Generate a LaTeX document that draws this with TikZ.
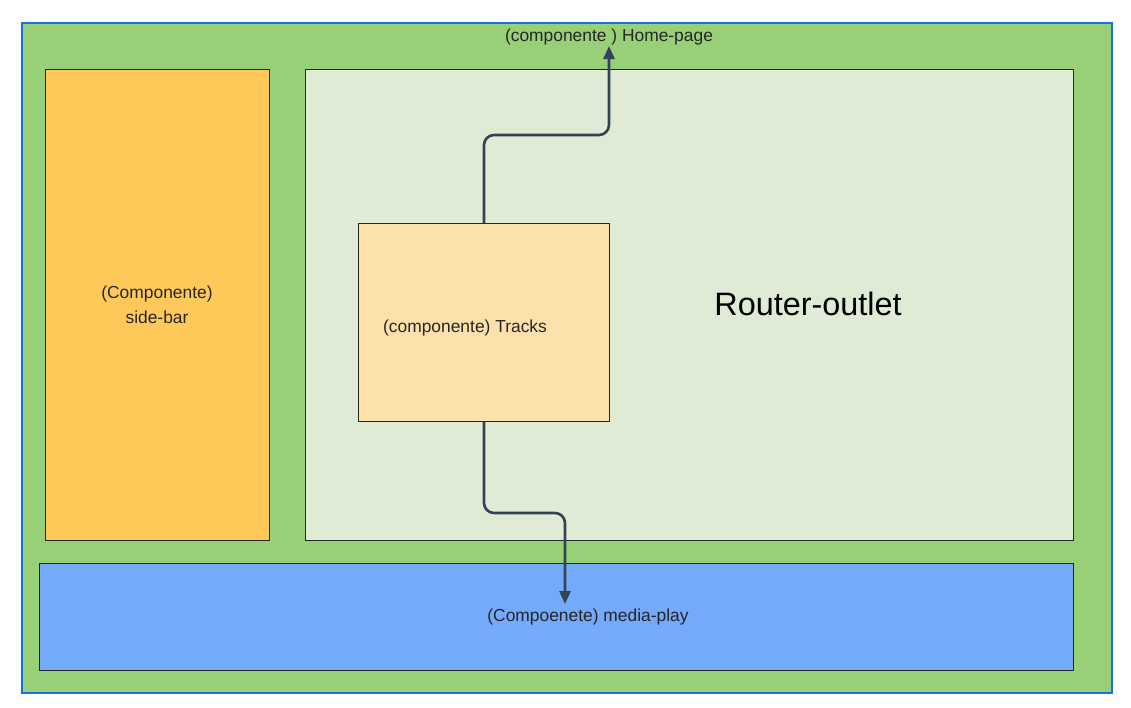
\documentclass[tikz,border=0pt]{standalone}
\usepackage{fontspec}
\setmainfont{Liberation Sans}
\usetikzlibrary{arrows.meta,positioning}
\definecolor{pagegreen}{HTML}{97D077}
\definecolor{pageblue}{HTML}{1A6FE3}
\definecolor{sidebarfill}{HTML}{FFC95A}
\definecolor{outletfill}{HTML}{DFEBD5}
\definecolor{tracksfill}{HTML}{FCE1AC}
\definecolor{mediafill}{HTML}{75A9F9}
\definecolor{flowcol}{HTML}{314354}
\definecolor{txtcol}{HTML}{262626}

\begin{document}
\begin{tikzpicture}[x=1pt,y=-1pt,
                every node/.style={text=txtcol,font=\fontsize{17.4}{22}\selectfont},
                box/.style={draw=black!85,line width=1pt,anchor=north west,inner sep=0pt},
                caption/.style={inner sep=0pt},
                flow/.style={draw=flowcol,line width=2.6pt,rounded corners=10pt,
                    -{Triangle[length=13pt,width=11pt]}}
            ]
                \useasboundingbox (0,0) rectangle (1131,707);
                % outer page
                \node[box,draw=pageblue,line width=2.4pt,fill=pagegreen,
                    minimum width=1090pt,minimum height=670pt] (homepage) at (21,22) {};
                \node[caption] (homelbl) at (609,36.5) {(componente ) Home-page};
                % inner components
                \node[box,fill=sidebarfill,minimum width=224pt,minimum height=471pt,
                    align=center,anchor=center] (sidebar) at (157,304.5)
                    {(Componente)\\[3pt]side-bar};
                \node[box,fill=outletfill,minimum width=768pt,minimum height=471pt] (outlet) at (305,69) {};
                \node[caption,font=\fontsize{32.4}{38}\selectfont,text=black] (outletlbl) at (808,304) {Router-outlet};
                \node[box,fill=tracksfill,minimum width=251pt,minimum height=198pt] (tracks) at (358,223) {};
                \node[caption] (trackslbl) at (465,327.5) {(componente) Tracks};
                \node[box,fill=mediafill,minimum width=1034pt,minimum height=107pt] (media) at (39,563) {};
                \node[caption] (medialbl) at (588,616.5) {(Compoenete) media-play};
                % connectors
                \coordinate (hometip) at (609,46);
                \coordinate (mediatip) at (565,604);
                \draw[flow] (tracks.north) -- (484,135) -- (609,135) -- (hometip);
                \draw[flow] (tracks.south) -- (484,513) -- (565,513) -- (mediatip);
            \end{tikzpicture}
\end{document}
